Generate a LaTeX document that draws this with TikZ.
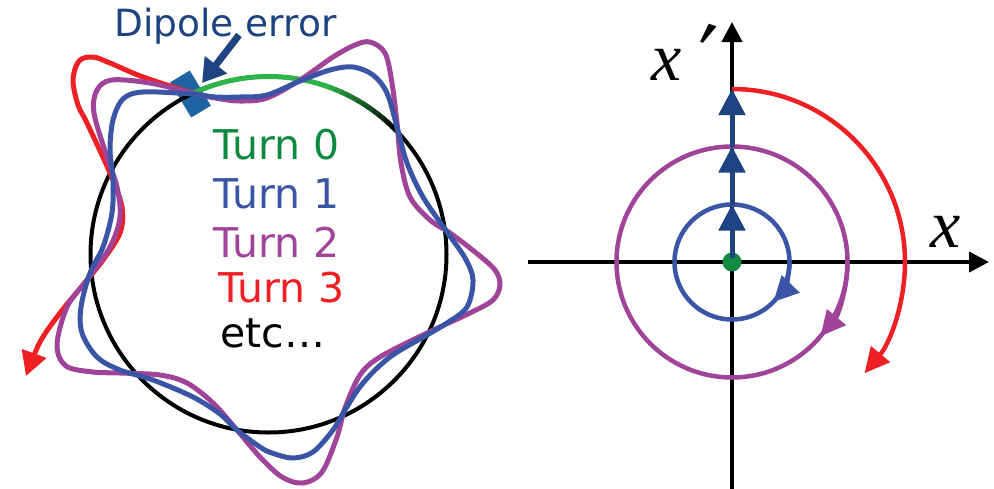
\documentclass[tikz,border=0pt]{standalone}
\usepackage{fontspec}
\usepackage{graphicx}
\setmainfont{DejaVu Sans}
\newfontfamily\timesfont{Liberation Serif}
\usetikzlibrary{arrows.meta}
\definecolor{cgreen}{HTML}{2DB34A}
\definecolor{tgreen}{HTML}{0E8A40}
\definecolor{cblue}{HTML}{3A55A5}
\definecolor{cpurple}{HTML}{A0449A}
\definecolor{cred}{HTML}{EE2024}
\definecolor{dblue}{HTML}{1D4480}
\definecolor{dmd}{HTML}{1F64A1}
\definecolor{dotgreen}{HTML}{138A43}
\tikzset{
  orbit/.style={line width=5pt, line join=round, line cap=round},
  axisline/.style={black, line width=4pt, -{Triangle[length=20pt,width=20pt]}},
  phase/.style={line width=4.5pt},
  phasetip/.style={-{Triangle[length=25pt,width=24pt]}},
  kick/.style={dblue, line width=5pt, -{Triangle[length=26pt,width=26pt]}},
  lbl/.style={anchor=base west, inner sep=0pt, font=\fontsize{41}{46}\selectfont},
  axlabel/.style={anchor=base west, inner sep=0pt, font=\timesfont\itshape\fontsize{68}{72}\selectfont},
}
\begin{document}
\begin{tikzpicture}[x=1pt,y=-1pt]
\useasboundingbox (0,0) rectangle (994,488);
% ---------------- left diagram ----------------
\coordinate (C) at (268.5,254.5);
\coordinate (P) at ([shift={(-115.3:178)}]C);
\node[fill=dmd, minimum width=41pt, minimum height=23pt, inner sep=0pt, rotate=-59] (dmdnode) at (190.5,94) {};
\draw[black, line width=4pt] (C) circle[radius=178];
\draw[cgreen, line width=5pt] (P) arc[start angle=-115.3, end angle=-71, radius=178];
\foreach \i in {0,...,13} {
  \pgfmathsetmacro\sa{-72+2*\i}
  \pgfmathsetmacro\ea{-72+2*\i+2.3}
  \pgfmathtruncatemacro\pc{100-7.5*\i}
  \draw[cgreen!\pc!black, line width=5pt] ([shift={(\sa:178)}]C) arc[start angle=\sa, end angle=\ea, radius=178];
}
% Turn 3 (red)
\draw[cred, orbit, line cap=butt, -{Triangle[length=24pt,width=25pt]}] plot[smooth, tension=0.55] coordinates {
 (192,93) (143,77) (110,63) (93,57) (79,61) (73,80) (78,105) (87,123) (110,173) (122,207) (120,233) (103,260) (87,280) (60,313) (40,342) (26,376)};
% Turn 2 (purple)
\draw[cpurple, orbit] plot[smooth cycle, tension=0.55] coordinates {
 (192,93) (215,98) (240,101) (267,98) (300,80) (333,57) (355,45) (370,42) (385,53) (392,83) (397,123) (401,163) (410,197) (430,220) (450,233) (475,252) (495,270) (500,285) (493,300) (470,313) (427,333) (380,357) (360,375) (345,408) (337,437) (322,472) (303,483) (282,477) (260,457) (237,430) (213,403) (187,383) (160,375) (120,373) (93,372) (66,366) (57,345) (67,307) (87,280) (110,247) (120,217) (117,187) (107,157) (94,113) (97,90) (112,80) (150,83)};
% Turn 1 (blue)
\draw[cblue, orbit] plot[smooth cycle, tension=0.55] coordinates {
 (192,94) (215,97) (240,97) (267,95) (300,81) (330,70) (353,67) (373,75) (387,93) (397,127) (407,163) (423,197) (447,232) (465,258) (473,280) (467,307) (447,323) (427,335) (390,357) (363,383) (345,410) (333,430) (313,452) (293,458) (272,453) (260,447) (237,430) (220,414) (193,397) (153,380) (120,370) (97,357) (82,333) (81,307) (90,273) (103,247) (112,213) (113,180) (110,150) (113,120) (123,99) (143,92)};
% dipole label and arrow
\node[anchor=base west, inner sep=0pt, text=dblue, font=\fontsize{37.5}{42}\selectfont] (dip) at (114,36.5) {Dipole error};
\coordinate (dipA) at (239,35);
\coordinate (dipB) at (202,83);
\draw[dblue, line width=7pt, -{Triangle[length=23pt,width=27pt]}] (dipA) -- (dipB);
% turn labels
\node[lbl, text=tgreen] (t0) at (213,159) {Turn 0};
\node[lbl, text=cblue] (t1) at (213,208) {Turn 1};
\node[lbl, text=cpurple] (t2) at (213,257) {Turn 2};
\node[lbl, text=cred] (t3) at (218,302) {Turn 3};
\node[lbl, text=black] (t4) at (220,347) {etc…};
% ---------------- right diagram ----------------
\coordinate (O) at (732,262);
\coordinate (xl) at (528,262);
\coordinate (xr) at (989,262);
\coordinate (yb) at (732,490);
\coordinate (yt) at (732,22);
\draw[axisline] (xl) -- (xr);
\draw[axisline] (yb) -- (yt);
\draw[cblue, phase] (O) circle[radius=57.5];
\draw[cblue, phase, phasetip] ([shift={(0:57.5)}]O) arc[start angle=0, end angle=44, radius=57.5];
\draw[cpurple, phase] (O) circle[radius=115.5];
\draw[cpurple, phase, phasetip] ([shift={(0:115.5)}]O) arc[start angle=0, end angle=40, radius=115.5];
\draw[cred, phase, phasetip] ([shift={(-90:173)}]O) arc[start angle=-90, end angle=40, radius=173];
\fill[dotgreen] (O) circle[radius=9.5];
\coordinate (k0) at (732,258);
\coordinate (k1) at (732,204.5);
\coordinate (k2) at (732,146.5);
\coordinate (k3) at (732,89);
\draw[kick] (k0) -- (k1);
\draw[kick] (k1) -- (k2);
\draw[kick] (k2) -- (k3);
\node[axlabel] (xplab) at (651,80) {x\kern-2pt\raisebox{3pt}{\rotatebox[origin=c]{-20}{\scalebox{1.25}{′}}}};
\node[axlabel] (xlab) at (930,247) {x};
\end{tikzpicture}
\end{document}
